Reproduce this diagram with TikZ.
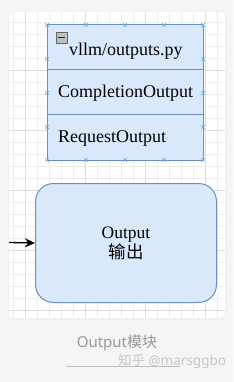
\documentclass[tikz,border=0pt]{standalone}
\usepackage{fontspec}
\setmainfont{Liberation Serif}
\newfontfamily\cjk{Noto Sans CJK SC}
\newfontfamily\capfont{Noto Sans}
\usetikzlibrary{arrows.meta}
\definecolor{bgc}{HTML}{F5F5F5}
\definecolor{fillb}{HTML}{DAE8FC}
\definecolor{lineb}{HTML}{6C8EBF}
\definecolor{handle}{HTML}{4FB3E8}
\definecolor{gridminor}{HTML}{EDEDED}
\definecolor{gridmajor}{HTML}{DEDEDE}
\tikzset{
  row/.style={draw=lineb, fill=fillb, line width=1pt, minimum width=156pt, minimum height=45pt, inner sep=0pt, outer sep=0pt},
  rowtxt/.style={font=\fontsize{18}{20}\selectfont, anchor=west, inner sep=0pt},
  hmark/.style={handle, line width=0.6pt},
  outbox/.style={draw=lineb, fill=fillb, line width=1pt, rounded corners=18pt, minimum width=181pt, minimum height=119pt, align=center, font=\fontsize{17.5}{22}\selectfont},
  arr/.style={-{Stealth[length=10pt,width=9pt]}, line width=1.3pt, black}
}
\begin{document}
\begin{tikzpicture}[x=1pt,y=-1pt]
\useasboundingbox (0,0) rectangle (233,382);
\fill[bgc] (0,0) rectangle (233,382);
% card shadow + card
\fill[black!6, rounded corners=4pt] (8,11) rectangle (226,320);
\fill[white, rounded corners=4pt] (9,12) rectangle (225,318);
\begin{scope}
\clip[rounded corners=4pt] (9,12) rectangle (225,318);
\foreach \x in {13,25,...,225} \draw[gridminor, line width=0.5pt] (\x,12) -- (\x,318);
\foreach \y in {10,22,...,318} \draw[gridminor, line width=0.5pt] (9,\y) -- (225,\y);
\foreach \x in {25,85,145,205} \draw[gridmajor, line width=0.6pt] (\x,12) -- (\x,318);
\foreach \y in {70,130,190,250,310} \draw[gridmajor, line width=0.6pt] (9,\y) -- (225,\y);
\end{scope}
% table
\node[row, anchor=north west] (hdr) at (47,25) {};
\node[row, anchor=north west] (r1) at (47,70) {};
\node[row, anchor=north west] (r2) at (47,115) {};
\draw[lineb, line width=1pt] (47,25) rectangle (203,160);
\node[rowtxt] (t0) at (69,51) {vllm/outputs.py};
\node[rowtxt] (t1) at (58,93) {CompletionOutput};
\node[rowtxt] (t2) at (58,138) {RequestOutput};
% collapse icon
\node[draw=black!60, fill=black!25, minimum size=11pt, inner sep=0pt, line width=0.6pt] (icon) at (61.5,37.5) {};
\draw[black!85, line width=1.6pt] ([xshift=2pt]icon.west) -- ([xshift=-2pt]icon.east);
% selection handles
\foreach \x in {47,86,125,164,203} {
  \foreach \y in {25,160} {
    \draw[hmark] (\x-2,\y-2) -- (\x+2,\y+2) (\x-2,\y+2) -- (\x+2,\y-2);
  }
}
\foreach \x in {47,203} {
  \foreach \y in {59,93,127} {
    \draw[hmark] (\x-2,\y-2) -- (\x+2,\y+2) (\x-2,\y+2) -- (\x+2,\y-2);
  }
}
% output box
\node[outbox, anchor=north west] (out) at (35,183) {Output\\[-2pt]{\cjk 输出}};
\coordinate (src) at (9,242.5);
\draw[arr] (src) -- (out.west);
% caption
\node[font=\capfont\fontsize{15}{17}\selectfont, text=black!40, inner sep=0pt] (cap) at (117,343) {Output{\cjk 模块}};
\node[font=\fontsize{13.5}{15}\selectfont, text=black!22, inner sep=0pt, anchor=west] (wm) at (118,361) {{\cjk 知乎} {\capfont @marsggbo}};
\coordinate (ul1) at (66,366.5);
\coordinate (ul2) at (180,366.5);
\draw[black!25, line width=0.5pt] (ul1) -- (ul2);
\end{tikzpicture}
\end{document}
